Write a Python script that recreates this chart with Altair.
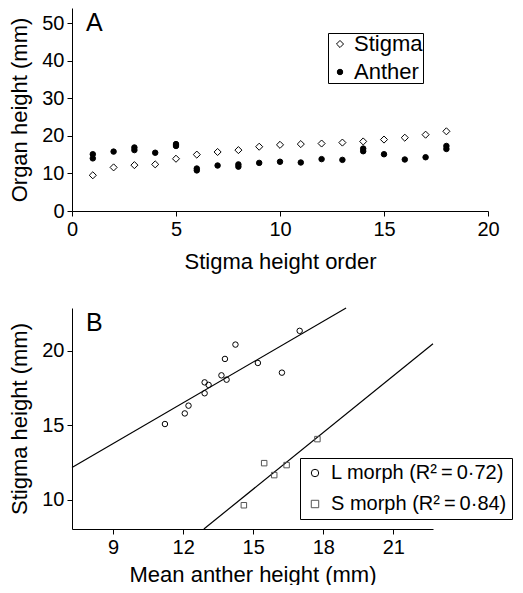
import altair as alt
import pandas as pd

# ---------------- data ----------------
# Panel A
order = list(range(1, 19))
stigma = [9.5, 11.6, 12.2, 12.4, 13.9, 15.0, 15.7, 16.2, 17.1, 17.6,
          17.8, 17.95, 18.2, 18.5, 19.0, 19.5, 20.3, 21.2]
anther_order = [1, 1, 2, 3, 3, 4, 5, 5, 6, 6, 7, 8, 8, 9, 10, 11, 12, 13,
                14, 14, 15, 16, 17, 18, 18]
anther = [15.1, 14.0, 15.8, 16.9, 16.2, 15.5, 17.8, 17.3, 11.3, 10.8, 12.1,
          12.4, 11.8, 12.8, 13.1, 12.9, 13.8, 13.6, 16.6, 15.9, 15.1, 13.7,
          14.3, 17.3, 16.5]
series = ["Stigma", "Anther"]

# Panel B
l_anther = [11.22, 12.07, 12.23, 12.92, 12.92, 13.09, 13.64, 13.86, 13.79,
            14.24, 15.20, 16.23, 16.99]
l_stigma = [15.08, 15.79, 16.31, 17.87, 17.14, 17.70, 18.34, 18.05, 19.44,
            20.40, 19.17, 18.52, 21.32]
s_anther = [14.60, 15.47, 15.90, 16.43, 17.75]
s_stigma = [9.64, 12.46, 11.66, 12.33, 14.07]
morphs = ["L morph", "S morph"]
r2 = ["0·72", "0·84"]
intercepts = [5.58, -8.24]
slopes = [0.91, 1.264]

xa_dom = [0, 20]
ya_dom = [0, 54]
xb_dom = [7.24, 22.7]
yb_dom = [8.05, 22.85]

FONT = "Liberation Sans"
labels = [f"{m} (R²\u2009=\u2009{r})" for m, r in zip(morphs, r2)]

# ---------------- panel A ----------------
dfA = pd.concat([
    pd.DataFrame({"order": order, "height": stigma, "organ": series[0]}),
    pd.DataFrame({"order": anther_order, "height": anther, "organ": series[1]}),
])

legA = alt.Legend(title=None, orient="none", legendX=256, legendY=25,
                  strokeColor="black", padding=0, labelFontSize=22,
                  labelFont=FONT, labelColor="black", rowPadding=6,
                  symbolOffset=1, symbolStrokeWidth=1, labelOffset=3,
                  cornerRadius=0)

xA = alt.X("order:Q", scale=alt.Scale(domain=xa_dom, nice=False, zero=False),
           axis=alt.Axis(values=[0, 5, 10, 15, 20], title="Stigma height order"))
yA = alt.Y("height:Q", scale=alt.Scale(domain=ya_dom, nice=False),
           axis=alt.Axis(values=[0, 10, 20, 30, 40, 50], title="Organ height (mm)",
                         titlePadding=10))

ptsA = alt.Chart(dfA).mark_point(filled=True, strokeWidth=1, opacity=1).encode(
    x=xA, y=yA,
    shape=alt.Shape("organ:N", scale=alt.Scale(domain=series, range=["diamond", "circle"]), legend=legA),
    fill=alt.Fill("organ:N", scale=alt.Scale(domain=series, range=["white", "black"]), legend=legA),
    stroke=alt.Stroke("organ:N", scale=alt.Scale(domain=series, range=["black", "black"]), legend=legA),
    size=alt.Size("organ:N", scale=alt.Scale(domain=series, range=[50, 30]), legend=legA),
)

labA = alt.Chart(pd.DataFrame({"t": ["A"]})).mark_text(
    font=FONT, fontSize=25, align="left", baseline="top", color="black"
).encode(x=alt.value(14), y=alt.value(3), text="t:N")

panelA = alt.layer(ptsA, labA).properties(width=416, height=203)

# ---------------- panel B ----------------
dfB = pd.concat([
    pd.DataFrame({"anther": l_anther, "stigma": l_stigma, "morph": labels[0]}),
    pd.DataFrame({"anther": s_anther, "stigma": s_stigma, "morph": labels[1]}),
])

rows = []
for lab, a, b in zip(labels, intercepts, slopes):
    x0 = max(xb_dom[0], (yb_dom[0] - a) / b)
    x1 = min(xb_dom[1], (yb_dom[1] - a) / b)
    rows.append({"morph": lab, "anther": x0, "stigma": a + b * x0})
    rows.append({"morph": lab, "anther": x1, "stigma": a + b * x1})
dfL = pd.DataFrame(rows)

xB = alt.X("anther:Q", scale=alt.Scale(domain=xb_dom, nice=False, zero=False),
           axis=alt.Axis(values=[9, 12, 15, 18, 21], title="Mean anther height (mm)",
                         titlePadding=7))
yB = alt.Y("stigma:Q", scale=alt.Scale(domain=yb_dom, nice=False, zero=False),
           axis=alt.Axis(values=[10, 15, 20], title="Stigma height (mm)",
                         titlePadding=10))

legB = alt.Legend(title=None, orient="none", legendX=228, legendY=150,
                  strokeColor="black", padding=5, labelFontSize=20,
                  labelFont=FONT, labelColor="black", rowPadding=11,
                  symbolSize=55, symbolStrokeWidth=1, labelOffset=6,
                  cornerRadius=0, labelLimit=400)

linesB = alt.Chart(dfL).mark_line(color="black", strokeWidth=1.2).encode(
    x=xB, y=yB, detail="morph:N")

ptsB = alt.Chart(dfB).mark_point(strokeWidth=1, size=30, opacity=1).encode(
    x=xB, y=yB,
    shape=alt.Shape("morph:N", scale=alt.Scale(domain=labels, range=["circle", "square"]), legend=legB),
    color=alt.Color("morph:N", scale=alt.Scale(domain=labels, range=["black", "#555555"]), legend=legB),
)

labB = alt.Chart(pd.DataFrame({"t": ["B"]})).mark_text(
    font=FONT, fontSize=25, align="left", baseline="top", color="black"
).encode(x=alt.value(14), y=alt.value(3), text="t:N")

panelB = alt.layer(linesB, ptsB, labB).properties(width=361, height=221)

chart = alt.vconcat(panelA, panelB, spacing=33).resolve_scale(
    shape="independent", color="independent", fill="independent",
    stroke="independent", size="independent", x="independent", y="independent"
).resolve_legend(
    shape="independent", color="independent", fill="independent",
    stroke="independent", size="independent"
).properties(
    padding={"left": 0, "top": 0, "right": 0, "bottom": 0}
).configure_view(stroke=None).configure_axis(
    grid=False, labelFont=FONT, titleFont=FONT, labelFontSize=20,
    titleFontSize=22, titleFontWeight="normal", labelColor="black",
    titleColor="black", domainColor="black", tickColor="black",
    tickSize=5, labelPadding=3, titlePadding=12, domainWidth=1, tickWidth=1,
    labelFlush=False, labelOverlap=False
)

chart.save("out.html", embed_options={"renderer": "svg", "actions": False})
